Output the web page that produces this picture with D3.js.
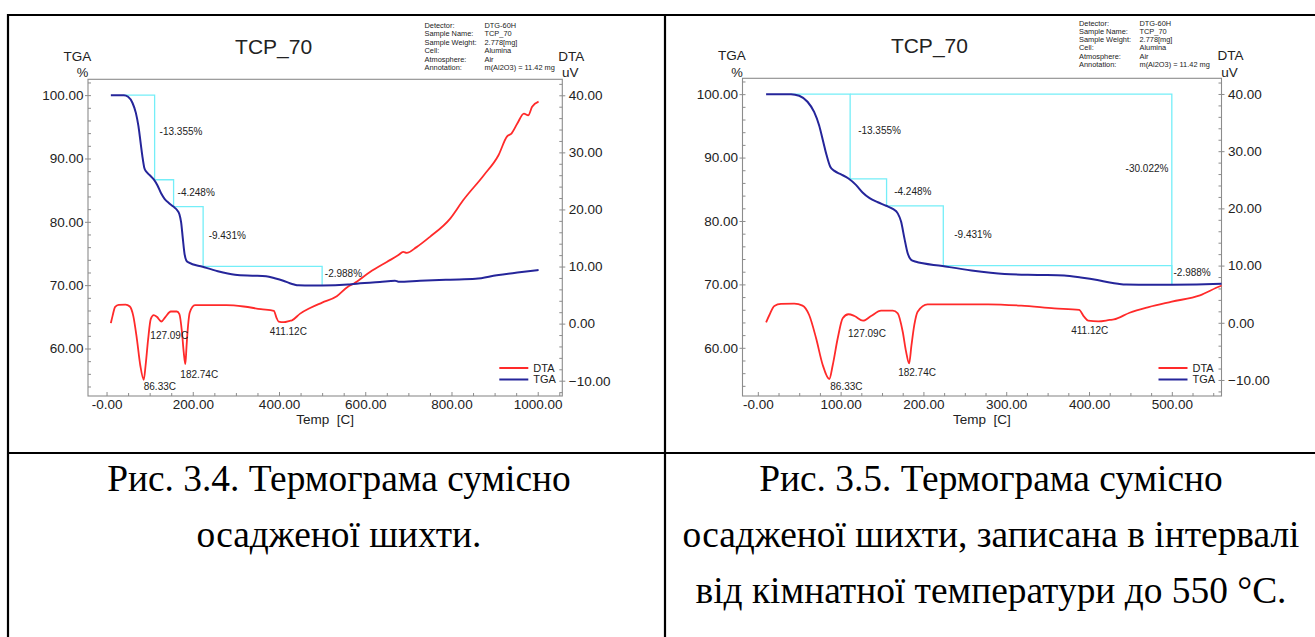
<!DOCTYPE html>
<html>
<head>
<meta charset="utf-8">
<script src="https://cdn.jsdelivr.net/npm/d3@7"></script>
<style>
  html, body { margin: 0; padding: 0; background: #fff; }
  svg { display: block; }
  text { font-family: "Liberation Sans", Arial, sans-serif; fill: #222; }
  .cap { font-family: "Liberation Serif", "Times New Roman", serif; fill: #000; }
</style>
</head>
<body>
<svg id="fig" width="1315" height="637"></svg>
<script>
// ---- TGA: sample mass, % vs temperature, °C ----
const tgaTemp = [10, 40, 50, 60, 68, 74, 79, 83, 87.5, 92.5, 100.5, 109.5, 118.5, 126.5, 135, 145, 155, 163, 169, 173, 177, 181, 185, 190, 223, 258, 298, 338, 370, 390, 410, 425, 435, 445, 460, 500, 560, 573, 634, 669, 677, 727, 797, 856, 905, 953, 1002];
const tgaMass = [100, 100, 99.74, 98.8, 97.2, 95.1, 92.5, 90.4, 88.55, 87.9, 87.35, 86.7, 85.7, 84.5, 83.6, 82.95, 82.4, 81.9, 81.2, 79.9, 77.3, 74.9, 73.9, 73.6, 72.9, 72.2, 71.65, 71.5, 71.4, 71.1, 70.7, 70.3, 70.1, 69.97, 69.95, 69.95, 70.1, 70.2, 70.5, 70.7, 70.55, 70.7, 70.87, 71.0, 71.55, 72.0, 72.4];

// ---- DTA: signal, uV vs temperature, °C ----
const dtaTemp = [10, 14, 20, 28, 44, 54, 62, 70.4, 78.4, 86.33, 90.5, 96.5, 102.5, 109.4, 116.7, 127.09, 136.8, 148.9, 163, 169, 175, 179, 182.74, 185.5, 189, 193, 205, 237, 278, 318, 358, 388, 394, 399, 411.12, 425, 430, 449, 472, 500, 534, 559, 573, 611, 650, 677, 688, 696, 719, 750, 797, 827, 875, 909, 929, 939, 953, 968, 978, 987, 1002];
const dtaSignal = [0.09, 1.36, 2.94, 3.29, 3.34, 3.0, 1.36, -2.71, -7.38, -9.83, -7.38, -2.71, 0.79, 1.49, 1.19, 0.37, 1.19, 2.12, 2.12, 1.66, -1.56, -5.0, -7.1, -4.0, -0.38, 1.94, 3.23, 3.23, 3.23, 3.0, 2.53, 2.24, 1.07, 0.37, 0.25, 0.49, 0.58, 1.75, 2.74, 3.69, 4.8, 6.43, 7.0, 9.05, 10.8, 12.0, 12.56, 12.4, 13.4, 15.2, 18.4, 21.6, 26.0, 29.5, 32.8, 33.3, 35.1, 36.8, 36.5, 38.0, 38.9];

// ---- stepwise mass-loss analysis ----
const stepBounds = [40, 111.5, 155.5, 224, 500];   // °C
const stepLoss = [13.355, 4.248, 9.431, 2.988];     // %
const stepLabelLevel = [94.2, 84.6, 77.8, 71.8];    // % (TGA axis)
const totalLoss = 30.022;
const totalLabelLevel = 88.2;

// ---- DTA peak temperatures ----
const peakTemps = [86.33, 127.09, 182.74, 411.12];

// ---- axis ticks ----
const tgaTicks = [60, 70, 80, 90, 100];
const dtaTicks = [-10, 0, 10, 20, 30, 40];
const xTicksFull = [0, 200, 400, 600, 800, 1000];
const xTickLabelsFull = ["-0.00", "200.00", "400.00", "600.00", "800.00", "1000.00"];
const xTicksShort = [0, 100, 200, 300, 400, 500];
const xTickLabelsShort = ["-0.00", "100.00", "200.00", "300.00", "400.00", "500.00"];

// ---- instrument header ----
const metaKeys = ["Detector:", "Sample Name:", "Sample Weight:", "Cell:", "Atmosphere:", "Annotation:"];
const metaVals = ["DTG-60H", "TCP_70", "2.778[mg]", "Alumina", "Air", "m(Al2O3) = 11.42 mg"];
const sampleTitle = "TCP_70";

// ---- captions ----
const captionLeft = ["Рис. 3.4. Термограма сумісно", "осадженої шихти."];
const captionRight = ["Рис. 3.5. Термограма сумісно", "осадженої шихти, записана в інтервалі", "від кімнатної температури до 550 °C."];

const C = { dta: "#ff2a2a", tga: "#25259a", step: "#74eef8", frame: "#8c8c8c", text: "#222" };

const svg = d3.select("#fig");
svg.append("rect").attr("width", 1315).attr("height", 637).attr("fill", "#fff");

function interp(xs, ys, t) {
  const i = Math.max(1, Math.min(xs.length - 1, d3.bisectLeft(xs, t)));
  const a = xs[i - 1], b = xs[i];
  return ys[i - 1] + (ys[i] - ys[i - 1]) * (t - a) / (b - a);
}

const panels = [
  {
    key: "full",
    frame: { l: 88, r: 562.3, t: 79.3, b: 396 },
    xDom: [-43, 1057], tgaDom: [52.5, 102.5], dtaDom: [-12.68, 42.8],
    xTicks: xTicksFull, xLabels: xTickLabelsFull, xMinor: 50,
    title: { x: 273.6, y: 54 },
    meta: { kx: 424.5, vx: 484.5, y: 25.3, dy: 8.5 },
    unitY: { top: 60.5, bottom: 76.5 },
    showTotal: false,
    stepDx: [5, 4, 5.5, 2.7],
    peakDx: [0, -11, -5, -14],
    peakDy: [7, 13.5, 10, 9.4]
  },
  {
    key: "short",
    frame: { l: 742.5, r: 1221.5, t: 78.3, b: 396 },
    xDom: [-18.5, 560], tgaDom: [52.4, 102.5], dtaDom: [-12.8, 42.74],
    xTicks: xTicksShort, xLabels: xTickLabelsShort, xMinor: 25,
    title: { x: 929.4, y: 53.3 },
    meta: { kx: 1079, vx: 1139.5, y: 23.3, dy: 8.2 },
    unitY: { top: 59.5, bottom: 76.5 },
    showTotal: true,
    stepDx: [8, 7.6, 11, 1.7],
    peakDx: [1, -15, -11, -27],
    peakDy: [7, 12.6, 9.5, 9.4]
  }
];

panels.forEach(p => {
  const f = p.frame;
  const g = svg.append("g").attr("class", "panel-" + p.key);
  const x = d3.scaleLinear().domain(p.xDom).range([f.l, f.r]);
  const yT = d3.scaleLinear().domain(p.tgaDom).range([f.b, f.t]);
  const yD = d3.scaleLinear().domain(p.dtaDom).range([f.b, f.t]);

  // clip region = plot frame
  const clipId = "clip-" + p.key;
  g.append("clipPath").attr("id", clipId)
    .append("rect").attr("x", f.l).attr("y", f.t).attr("width", f.r - f.l).attr("height", f.b - f.t);

  // frame
  g.append("rect").attr("x", f.l).attr("y", f.t).attr("width", f.r - f.l).attr("height", f.b - f.t)
    .attr("fill", "none").attr("stroke", C.frame).attr("stroke-width", 1.1);

  const styleAxis = sel => {
    sel.select(".domain").remove();
    sel.selectAll(".tick line").attr("stroke", C.frame).attr("stroke-width", 1);
    sel.selectAll(".tick text").attr("fill", C.text).style("font-size", "13.5px")
      .style("font-family", '"Liberation Sans", Arial, sans-serif');
  };

  // left (TGA) axis
  g.append("g").attr("transform", `translate(${f.l},0)`)
    .call(d3.axisLeft(yT).tickValues(tgaTicks).tickSize(3).tickPadding(1.5).tickFormat(d3.format(".2f")))
    .call(styleAxis);
  g.append("g").attr("transform", `translate(${f.l},0)`)
    .call(d3.axisLeft(yT).tickValues(d3.range(54, 102.5, 2)).tickSize(-3).tickFormat(""))
    .call(styleAxis);

  // right (DTA) axis
  g.append("g").attr("transform", `translate(${f.r},0)`)
    .call(d3.axisRight(yD).tickValues(dtaTicks).tickSize(3).tickPadding(3.5).tickFormat(d3.format(".2f")))
    .call(styleAxis);
  g.append("g").attr("transform", `translate(${f.r},0)`)
    .call(d3.axisRight(yD).tickValues(d3.range(-12, 42.8, 2)).tickSize(-3).tickFormat(""))
    .call(styleAxis);

  // bottom (temperature) axis
  g.append("g").attr("transform", `translate(0,${f.b})`)
    .call(d3.axisBottom(x).tickValues(p.xTicks).tickSize(-4).tickPadding(3)
      .tickFormat((d, i) => p.xLabels[i]))
    .call(styleAxis);
  const minor = d3.range(Math.ceil(p.xDom[0] / p.xMinor) * p.xMinor, p.xDom[1], p.xMinor)
    .filter(v => !p.xTicks.includes(v));
  g.append("g").attr("transform", `translate(0,${f.b})`)
    .call(d3.axisBottom(x).tickValues(minor).tickSize(-3).tickFormat(""))
    .call(styleAxis);

  // axis titles
  const mid = (f.l + f.r) / 2;
  g.append("text").attr("x", mid).attr("y", 424).attr("text-anchor", "middle")
    .style("font-size", "13.5px").style("white-space", "pre").text("Temp\u00a0 [C]");
  g.append("text").attr("x", f.l - 10.5).attr("y", p.unitY.top).attr("text-anchor", "middle")
    .style("font-size", "13.5px").text("TGA");
  g.append("text").attr("x", f.l - 5.5).attr("y", p.unitY.bottom).attr("text-anchor", "middle")
    .style("font-size", "13px").text("%");
  g.append("text").attr("x", f.r + 9).attr("y", p.unitY.top).attr("text-anchor", "middle")
    .style("font-size", "13.5px").text("DTA");
  g.append("text").attr("x", f.r + 8).attr("y", p.unitY.bottom).attr("text-anchor", "middle")
    .style("font-size", "13.5px").text("uV");

  // title
  g.append("text").attr("x", p.title.x).attr("y", p.title.y).attr("text-anchor", "middle")
    .style("font-size", "21px").text(sampleTitle);

  // instrument header
  const meta = g.append("g").style("font-size", "7.4px");
  metaKeys.forEach((k, i) => {
    meta.append("text").attr("x", p.meta.kx).attr("y", p.meta.y + i * p.meta.dy).attr("dy", "0.35em").text(k);
    meta.append("text").attr("x", p.meta.vx).attr("y", p.meta.y + i * p.meta.dy).attr("dy", "0.35em").text(metaVals[i]);
  });

  const plot = g.append("g").attr("clip-path", `url(#${clipId})`);

  // step analysis lines
  const levels = [100];
  stepLoss.forEach(v => levels.push(levels[levels.length - 1] - v));
  const stepPts = [[stepBounds[0], levels[0]]];
  for (let i = 0; i < stepLoss.length; i++) {
    stepPts.push([stepBounds[i + 1], levels[i]]);
    stepPts.push([stepBounds[i + 1], levels[i + 1]]);
  }
  const lineXY = d3.line().x(d => x(d[0])).y(d => yT(d[1]));
  plot.append("path").attr("d", lineXY(stepPts)).attr("fill", "none")
    .attr("stroke", C.step).attr("stroke-width", 1.3);
  if (p.showTotal) {
    const end = stepBounds[stepBounds.length - 1];
    plot.append("path")
      .attr("d", lineXY([[stepBounds[1], 100], [end, 100], [end, 100 - totalLoss]]))
      .attr("fill", "none").attr("stroke", C.step).attr("stroke-width", 1.3);
    g.append("text").attr("x", x(end) - 3.4).attr("y", yT(totalLabelLevel)).attr("dy", "0.35em")
      .attr("text-anchor", "end").style("font-size", "10px").text("-" + totalLoss.toFixed(3) + "%");
  }
  stepLoss.forEach((v, i) => {
    g.append("text").attr("x", x(stepBounds[i + 1]) + p.stepDx[i]).attr("y", yT(stepLabelLevel[i]))
      .attr("dy", "0.35em").style("font-size", "10px").text("-" + v.toFixed(3) + "%");
  });

  // curves
  plot.append("path")
    .datum(dtaTemp.map((t, i) => [t, dtaSignal[i]]))
    .attr("d", d3.line().x(d => x(d[0])).y(d => yD(d[1])).curve(d3.curveMonotoneX))
    .attr("fill", "none").attr("stroke", C.dta).attr("stroke-width", 1.8);
  plot.append("path")
    .datum(tgaTemp.map((t, i) => [t, tgaMass[i]]))
    .attr("d", d3.line().x(d => x(d[0])).y(d => yT(d[1])).curve(d3.curveMonotoneX))
    .attr("fill", "none").attr("stroke", C.tga).attr("stroke-width", 2);

  // DTA peak labels
  peakTemps.forEach((t, i) => {
    const v = interp(dtaTemp, dtaSignal, t);
    g.append("text").attr("x", x(t) + p.peakDx[i]).attr("y", yD(v) + p.peakDy[i]).attr("dy", "0.35em")
      .style("font-size", "10px").text(t.toFixed(2) + "C");
  });

  // legend
  const lg = g.append("g").style("font-size", "11px");
  [["DTA", C.dta, 368], ["TGA", C.tga, 379.5]].forEach(([name, col, yy]) => {
    lg.append("line").attr("x1", f.r - 63).attr("x2", f.r - 34).attr("y1", yy).attr("y2", yy)
      .attr("stroke", col).attr("stroke-width", 2);
    lg.append("text").attr("x", f.r - 29).attr("y", yy).attr("dy", "0.35em").text(name);
  });
});

// table rules around the figure cells
const rule = (x1, y1, x2, y2) => svg.append("line").attr("x1", x1).attr("y1", y1).attr("x2", x2).attr("y2", y2)
  .attr("stroke", "#000").attr("stroke-width", 2.2);
rule(7, 15, 1315, 15);
rule(8, 14, 8, 637);
rule(665, 14, 665, 637);
rule(7, 453, 1315, 453);

// captions
const capBase = [491, 547, 603];
const capG = svg.append("g").attr("class", "cap").style("font-size", "37.4px");
captionLeft.forEach((s, i) => capG.append("text").attr("class", "cap").attr("x", 339).attr("y", capBase[i])
  .attr("text-anchor", "middle").text(s));
captionRight.forEach((s, i) => capG.append("text").attr("class", "cap").attr("x", 991).attr("y", capBase[i])
  .attr("text-anchor", "middle").text(s));
</script>
</body>
</html>
